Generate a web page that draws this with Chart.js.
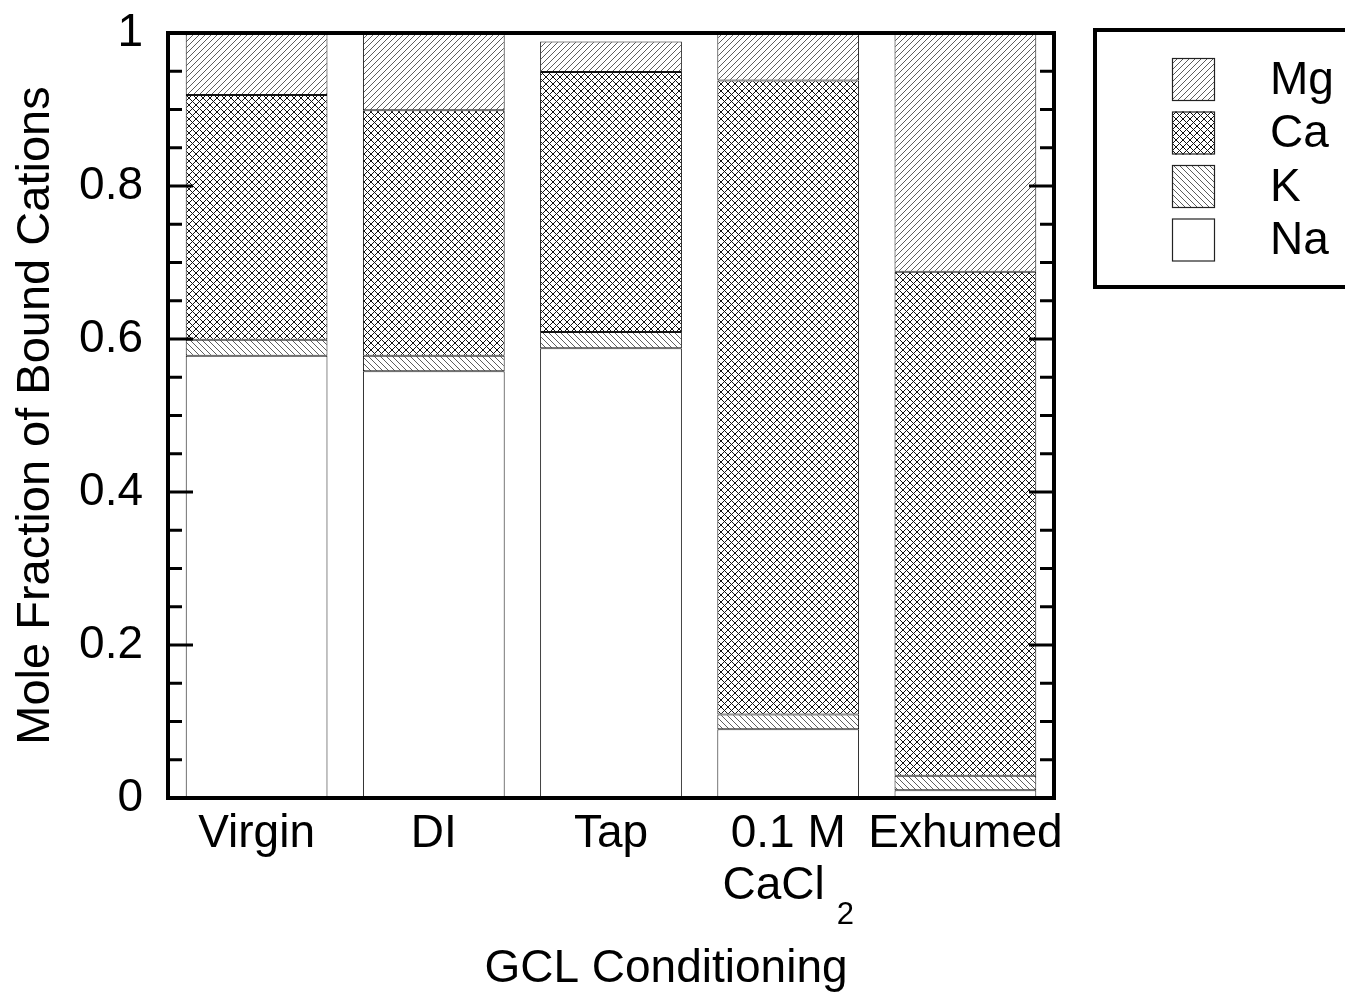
<!DOCTYPE html>
<html>
<head>
<meta charset="utf-8">
<script src="https://cdn.jsdelivr.net/npm/chart.js@4/dist/chart.umd.min.js"></script>
<style>
  html, body { margin: 0; padding: 0; background: #fff; }
  #wrap { width: 1345px; height: 994px; position: relative; }
</style>
</head>
<body>
<div id="wrap"><canvas id="c" width="1345" height="994"></canvas></div>
<script>
// GCL conditioning categories (multi-line labels, subscript digits rendered small)
const conditions = ['Virgin', 'DI', 'Tap', ['0.1 M', 'CaCl\u2082'], 'Exhumed'];

// Mole fraction of each bound cation, stacked bottom to top: Na, K, Ca, Mg
const na = [0.578, 0.558, 0.588, 0.090, 0.010];
const k  = [0.021, 0.020, 0.021, 0.019, 0.019];
const ca = [0.320, 0.321, 0.340, 0.829, 0.659];
const mg = [0.081, 0.101, 0.040, 0.062, 0.312];

const yTickLabels = ['0', '0.2', '0.4', '0.6', '0.8', '1'];
const xTitle = 'GCL Conditioning';
const yTitle = 'Mole Fraction of Bound Cations';

const FONT = "'Liberation Sans', Arial, Helvetica, sans-serif";
const TXT = 46;

// Hatch fills: 'fwd' = "/" lines, 'back' = "\" lines, 'cross' = both
function hatch(kind, s, color, width) {
  const c = document.createElement('canvas');
  c.width = c.height = s;
  const g = c.getContext('2d');
  g.fillStyle = '#fff';
  g.fillRect(0, 0, s, s);
  g.strokeStyle = color;
  g.lineWidth = width;
  g.beginPath();
  if (kind === 'fwd' || kind === 'cross') {
    g.moveTo(-1, s + 1); g.lineTo(s + 1, -1);
    g.moveTo(-1, 1); g.lineTo(1, -1);
    g.moveTo(s - 1, s + 1); g.lineTo(s + 1, s - 1);
  }
  if (kind === 'back' || kind === 'cross') {
    g.moveTo(-1, -1); g.lineTo(s + 1, s + 1);
    g.moveTo(s - 1, -1); g.lineTo(s + 1, 1);
    g.moveTo(-1, s - 1); g.lineTo(1, s + 1);
  }
  g.stroke();
  return g.createPattern(c, 'repeat');
}

const barStyle = {
  borderColor: '#111',
  borderWidth: 1,
  borderSkipped: false,
  categoryPercentage: 0.8,
  barPercentage: 1.0
};

const datasets = [
  Object.assign({ label: 'Na', data: na, backgroundColor: '#ffffff' }, barStyle),
  Object.assign({ label: 'K',  data: k,  backgroundColor: hatch('back', 6, '#333', 0.8) }, barStyle),
  Object.assign({ label: 'Ca', data: ca, backgroundColor: hatch('cross', 7, '#111', 1) }, barStyle),
  Object.assign({ label: 'Mg', data: mg, backgroundColor: hatch('fwd', 6, '#333', 0.8) }, barStyle)
];

// Inward major/minor ticks on both vertical sides plus the heavy frame
const frame = {
  id: 'frame',
  afterDatasetsDraw(chart) {
    const { ctx, chartArea: a, scales: { y } } = chart;
    ctx.save();
    ctx.strokeStyle = '#000';
    ctx.lineWidth = 3;
    ctx.beginPath();
    for (let i = 0; i <= 20; i++) {
      const py = y.getPixelForValue(i / 20);
      const len = i % 4 === 0 ? 25 : 14;
      ctx.moveTo(a.left, py); ctx.lineTo(a.left + len, py);
      ctx.moveTo(a.right, py); ctx.lineTo(a.right - len, py);
    }
    ctx.stroke();
    ctx.lineWidth = 4;
    ctx.strokeRect(a.left, a.top, a.right - a.left, a.bottom - a.top);
    ctx.restore();
  }
};

// Category labels under each bar, with chemical subscripts, and the x title
const SUBS = '\u2080\u2081\u2082\u2083\u2084\u2085\u2086\u2087\u2088\u2089';
const xLabels = {
  id: 'xLabels',
  afterDraw(chart) {
    const { ctx, scales: { x } } = chart;
    ctx.save();
    ctx.fillStyle = '#000';
    ctx.textBaseline = 'alphabetic';
    ctx.textAlign = 'left';
    const main = TXT + 'px ' + FONT;
    const sub = '31px ' + FONT;
    const gap = 12;
    conditions.forEach((lab, i) => {
      const cx = x.getPixelForValue(i);
      const lines = Array.isArray(lab) ? lab : [lab];
      lines.forEach((line, j) => {
        const base = 847 + j * 52;
        // split into normal / subscript runs
        const runs = [];
        for (const ch of line) {
          const si = SUBS.indexOf(ch);
          const isSub = si >= 0;
          const t = isSub ? String(si) : ch;
          if (runs.length && runs[runs.length - 1].sub === isSub) runs[runs.length - 1].t += t;
          else runs.push({ t, sub: isSub });
        }
        let total = 0;
        runs.forEach(r => {
          ctx.font = r.sub ? sub : main;
          r.w = ctx.measureText(r.t).width + (r.sub ? gap : 0);
          total += r.w;
        });
        let px = cx - total / 2;
        runs.forEach(r => {
          ctx.font = r.sub ? sub : main;
          ctx.fillText(r.t, px + (r.sub ? gap : 0), base + (r.sub ? 25 : 0));
          px += r.w;
        });
      });
    });
    ctx.font = TXT + 'px ' + FONT;
    ctx.textAlign = 'center';
    ctx.fillText(xTitle, 666, 982);
    ctx.restore();
  }
};

// Boxed legend, top to bottom in stacking order reversed
const boxLegend = {
  id: 'boxLegend',
  afterDraw(chart) {
    const { ctx } = chart;
    const items = chart.data.datasets.slice().reverse();
    ctx.save();
    ctx.strokeStyle = '#000';
    ctx.lineWidth = 4;
    ctx.strokeRect(1095, 30, 260, 257);
    ctx.font = '46px ' + FONT;
    ctx.textBaseline = 'middle';
    ctx.textAlign = 'left';
    items.forEach((ds, i) => {
      const top = 58 + i * 53.5;
      ctx.fillStyle = ds.backgroundColor;
      ctx.fillRect(1172, top, 43, 43);
      ctx.lineWidth = 1.2;
      ctx.strokeStyle = '#222';
      ctx.strokeRect(1172.5, top + 0.5, 42, 42);
      ctx.fillStyle = '#000';
      ctx.fillText(ds.label, 1270, top + 23);
    });
    ctx.restore();
  }
};

new Chart(document.getElementById('c'), {
  type: 'bar',
  data: { labels: conditions, datasets },
  plugins: [frame, xLabels, boxLegend],
  options: {
    responsive: false,
    animation: false,
    layout: { padding: { top: 33, right: 291, left: 0, bottom: 0 } },
    plugins: { legend: { display: false }, tooltip: { enabled: false } },
    scales: {
      x: {
        stacked: true,
        grid: { display: false, drawTicks: false },
        border: { display: false },
        ticks: { display: false },
        afterFit(s) { s.height = 196; }
      },
      y: {
        stacked: true,
        min: 0,
        max: 1,
        grid: { display: false, drawTicks: false },
        border: { display: false },
        ticks: {
          stepSize: 0.2,
          padding: 25,
          color: '#000',
          font: { family: FONT, size: TXT },
          callback: (v, i) => yTickLabels[i]
        },
        title: {
          display: true,
          text: yTitle,
          color: '#000',
          font: { family: FONT, size: 47 },
          padding: { top: 8 }
        },
        afterFit(s) {
          s.width = 168;
          s.paddingTop = 20;
          s.paddingBottom = 20;
        }
      }
    }
  }
});
</script>
</body>
</html>
